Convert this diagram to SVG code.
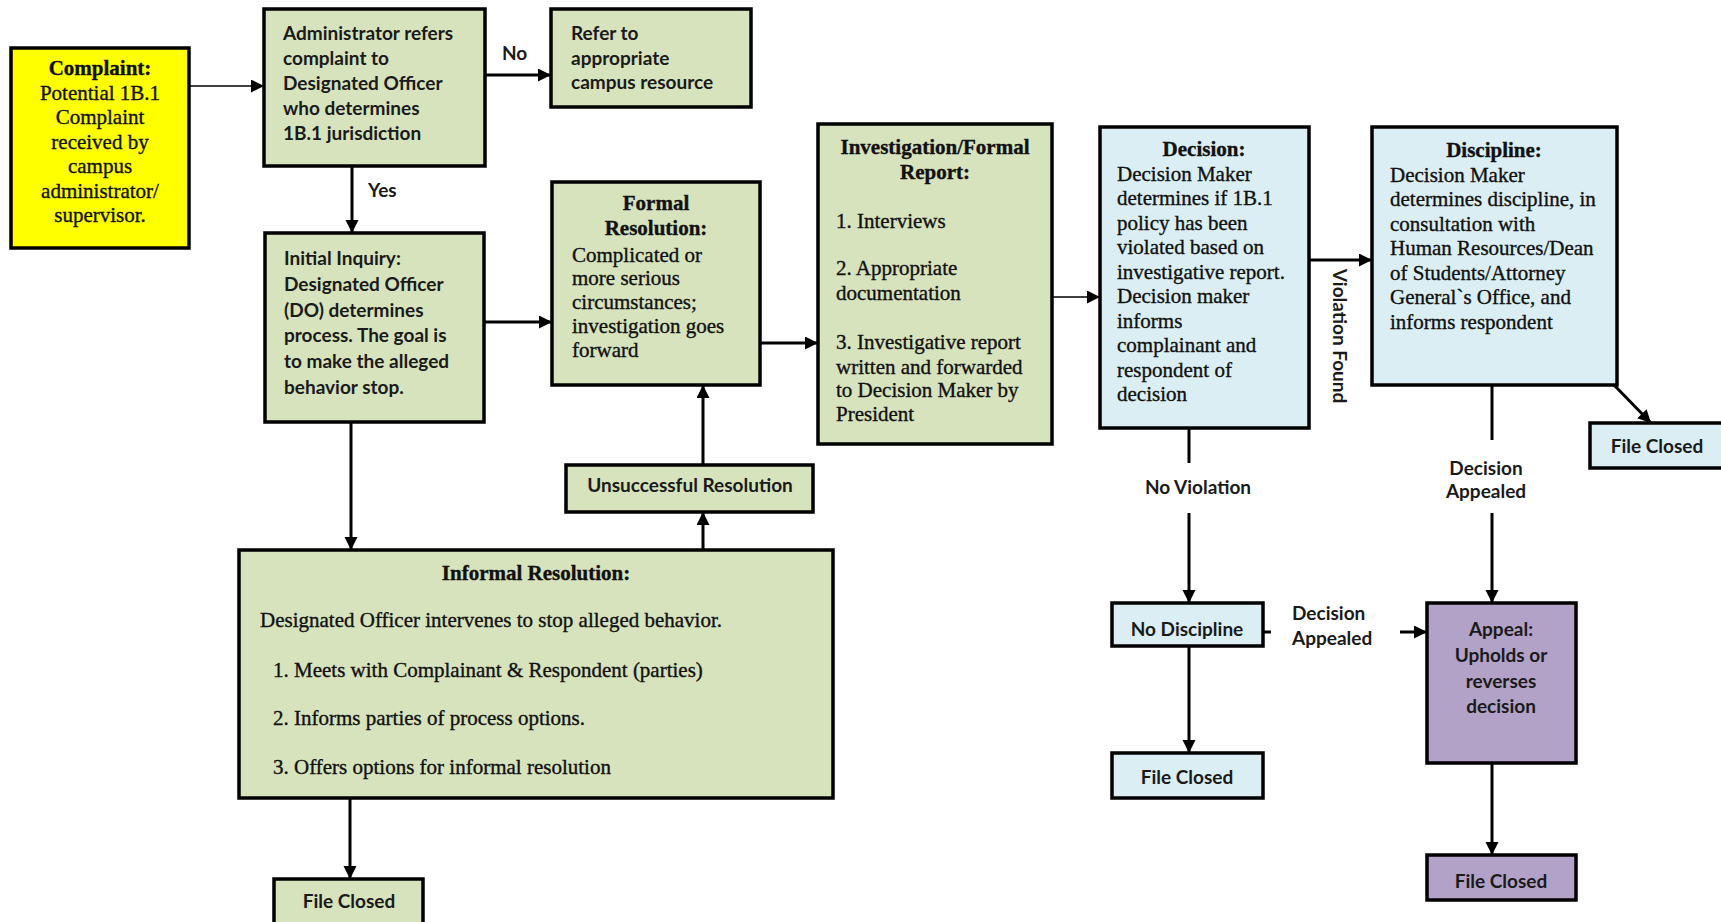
<svg xmlns="http://www.w3.org/2000/svg" width="1721" height="922" viewBox="0 0 1721 922">
<style>
.box{stroke:#000;stroke-width:3.5}
.g{fill:#D7E3BC}.b{fill:#DAEEF3}.p{fill:#B2A2C7}.y{fill:#FFFF00}
.c{stroke:#000;stroke-width:3;fill:none}
.thin{stroke:#000;stroke-width:1.6;fill:none}
.s{font-family:Lato,"Liberation Sans",sans-serif;font-size:19px;font-weight:bold;fill:#1a1a1a}
.t{font-family:"Liberation Serif","Times New Roman",serif;font-size:21px;fill:#111;stroke:#111;stroke-width:0.35}
.tb{font-weight:bold}
.m{text-anchor:middle}
</style>
<defs>
<marker id="ah" markerUnits="userSpaceOnUse" markerWidth="15" markerHeight="15" refX="13" refY="6.5" orient="auto">
<path d="M0,0 L13,6.5 L0,13 z" fill="#000"/>
</marker>
</defs>
<rect width="1721" height="922" fill="#fff"/>

<g id="connectors">
<line class="thin" x1="189" y1="86" x2="264" y2="86" marker-end="url(#ah)"/>
<line class="c" x1="485" y1="75" x2="551" y2="75" marker-end="url(#ah)"/>
<line class="c" x1="352" y1="166" x2="352" y2="233" marker-end="url(#ah)"/>
<line class="c" x1="484" y1="322" x2="552" y2="322" marker-end="url(#ah)"/>
<line class="c" x1="760" y1="343" x2="818" y2="343" marker-end="url(#ah)"/>
<line class="thin" x1="1052" y1="297" x2="1100" y2="297" marker-end="url(#ah)"/>
<line class="c" x1="1309" y1="260" x2="1372" y2="260" marker-end="url(#ah)"/>
<line class="c" x1="1614" y1="385" x2="1651" y2="423" marker-end="url(#ah)"/>
<line class="c" x1="351" y1="422" x2="351" y2="550" marker-end="url(#ah)"/>
<line class="c" x1="703" y1="550" x2="703" y2="512" marker-end="url(#ah)"/>
<line class="c" x1="703" y1="465" x2="703" y2="385" marker-end="url(#ah)"/>
<line class="c" x1="350" y1="798" x2="350" y2="879" marker-end="url(#ah)"/>
<line class="c" x1="1189" y1="428" x2="1189" y2="463"/>
<line class="c" x1="1189" y1="513" x2="1189" y2="603" marker-end="url(#ah)"/>
<line class="c" x1="1189" y1="646" x2="1189" y2="753" marker-end="url(#ah)"/>
<line class="c" x1="1492" y1="385" x2="1492" y2="440"/>
<line class="c" x1="1492" y1="513" x2="1492" y2="603" marker-end="url(#ah)"/>
<line class="c" x1="1263" y1="632" x2="1271" y2="632"/>
<line class="c" x1="1400" y1="632" x2="1427" y2="632" marker-end="url(#ah)"/>
<line class="c" x1="1492" y1="763" x2="1492" y2="855" marker-end="url(#ah)"/>
<text class="s" x="502" y="60">No</text>
<text class="s" x="368" y="197">Yes</text>
<text class="s m" x="1198" y="494">No Violation</text>
<text class="s m" x="1486" y="475">Decision</text>
<text class="s m" x="1486" y="498">Appealed</text>
<text class="s" x="1292" y="620">Decision</text>
<text class="s" x="1292" y="645">Appealed</text>
<text class="s m" transform="translate(1339,336) rotate(90)" x="0" y="6">Violation Found</text>
</g>

<g id="complaint">
<rect class="box y" x="11" y="48" width="178" height="200"/>
<text class="t m" x="100"><tspan class="tb" x="100" y="75">Complaint:</tspan><tspan x="100" y="99.5">Potential 1B.1</tspan><tspan x="100" y="124">Complaint</tspan><tspan x="100" y="148.5">received by</tspan><tspan x="100" y="173">campus</tspan><tspan x="100" y="197.5">administrator/</tspan><tspan x="100" y="222">supervisor.</tspan></text>
</g>

<g id="admin">
<rect class="box g" x="264" y="9" width="221" height="157"/>
<text class="s"><tspan x="283" y="40">Administrator refers</tspan><tspan x="283" y="65">complaint to</tspan><tspan x="283" y="90">Designated Officer</tspan><tspan x="283" y="115">who determines</tspan><tspan x="283" y="140">1B.1 jurisdiction</tspan></text>
</g>

<g id="refer">
<rect class="box g" x="551" y="9" width="200" height="98"/>
<text class="s"><tspan x="571" y="40">Refer to</tspan><tspan x="571" y="65">appropriate</tspan><tspan x="571" y="89">campus resource</tspan></text>
</g>

<g id="initial">
<rect class="box g" x="265" y="233" width="219" height="189"/>
<text class="s"><tspan x="284" y="265">Initial Inquiry:</tspan><tspan x="284" y="290.8">Designated Officer</tspan><tspan x="284" y="316.6">(DO) determines</tspan><tspan x="284" y="342.4">process. The goal is</tspan><tspan x="284" y="368.2">to make the alleged</tspan><tspan x="284" y="394">behavior stop.</tspan></text>
</g>

<g id="formal">
<rect class="box g" x="552" y="182" width="208" height="203"/>
<text class="t"><tspan class="tb m" x="656" y="210">Formal</tspan><tspan class="tb m" x="656" y="234.5">Resolution:</tspan><tspan x="572" y="261.5">Complicated or</tspan><tspan x="572" y="285.4">more serious</tspan><tspan x="572" y="309.3">circumstances;</tspan><tspan x="572" y="333.2">investigation goes</tspan><tspan x="572" y="357">forward</tspan></text>
</g>

<g id="investigation">
<rect class="box g" x="818" y="124" width="234" height="320"/>
<text class="t"><tspan class="tb m" x="935" y="154">Investigation/Formal</tspan><tspan class="tb m" x="935" y="179">Report:</tspan><tspan x="836" y="228">1. Interviews</tspan><tspan x="836" y="275">2. Appropriate</tspan><tspan x="836" y="300">documentation</tspan><tspan x="836" y="349">3. Investigative report</tspan><tspan x="836" y="374">written and forwarded</tspan><tspan x="836" y="397">to Decision Maker by</tspan><tspan x="836" y="421">President</tspan></text>
</g>

<g id="decision">
<rect class="box b" x="1100" y="127" width="209" height="301"/>
<text class="t"><tspan class="tb m" x="1204" y="156">Decision:</tspan><tspan x="1117" y="180.5">Decision Maker</tspan><tspan x="1117" y="205">determines if 1B.1</tspan><tspan x="1117" y="229.5">policy has been</tspan><tspan x="1117" y="254">violated based on</tspan><tspan x="1117" y="278.5">investigative report.</tspan><tspan x="1117" y="303">Decision maker</tspan><tspan x="1117" y="327.5">informs</tspan><tspan x="1117" y="352">complainant and</tspan><tspan x="1117" y="376.5">respondent of</tspan><tspan x="1117" y="401">decision</tspan></text>
</g>

<g id="discipline">
<rect class="box b" x="1372" y="127" width="245" height="258"/>
<text class="t"><tspan class="tb m" x="1494" y="157">Discipline:</tspan><tspan x="1390" y="181.5">Decision Maker</tspan><tspan x="1390" y="206">determines discipline, in</tspan><tspan x="1390" y="230.5">consultation with</tspan><tspan x="1390" y="255">Human Resources/Dean</tspan><tspan x="1390" y="279.5">of Students/Attorney</tspan><tspan x="1390" y="304">General`s Office, and</tspan><tspan x="1390" y="328.5">informs respondent</tspan></text>
</g>

<g id="file-closed-discipline">
<rect class="box b" x="1590" y="423" width="134" height="45"/>
<text class="s m" x="1657" y="453">File Closed</text>
</g>

<g id="unsuccessful">
<rect class="box g" x="566" y="465" width="247" height="47"/>
<text class="s m" x="690" y="492">Unsuccessful Resolution</text>
</g>

<g id="informal">
<rect class="box g" x="239" y="550" width="594" height="248"/>
<text class="t"><tspan class="tb m" x="536" y="580">Informal Resolution:</tspan><tspan x="260" y="627">Designated Officer intervenes to stop alleged behavior.</tspan><tspan x="273" y="677">1. Meets with Complainant &amp; Respondent (parties)</tspan><tspan x="273" y="725">2. Informs parties of process options.</tspan><tspan x="273" y="774">3. Offers options for informal resolution</tspan></text>
</g>

<g id="file-closed-informal">
<rect class="box g" x="274" y="879" width="149" height="48"/>
<text class="s m" x="349" y="908">File Closed</text>
</g>

<g id="no-discipline">
<rect class="box b" x="1112" y="603" width="151" height="43"/>
<text class="s m" x="1187" y="636">No Discipline</text>
</g>

<g id="file-closed-no-discipline">
<rect class="box b" x="1112" y="753" width="151" height="45"/>
<text class="s m" x="1187" y="784">File Closed</text>
</g>

<g id="appeal">
<rect class="box p" x="1427" y="603" width="149" height="160"/>
<text class="s m"><tspan x="1501" y="636">Appeal:</tspan><tspan x="1501" y="662">Upholds or</tspan><tspan x="1501" y="688">reverses</tspan><tspan x="1501" y="713">decision</tspan></text>
</g>

<g id="file-closed-appeal">
<rect class="box p" x="1427" y="855" width="149" height="45"/>
<text class="s m" x="1501" y="888">File Closed</text>
</g>
</svg>
